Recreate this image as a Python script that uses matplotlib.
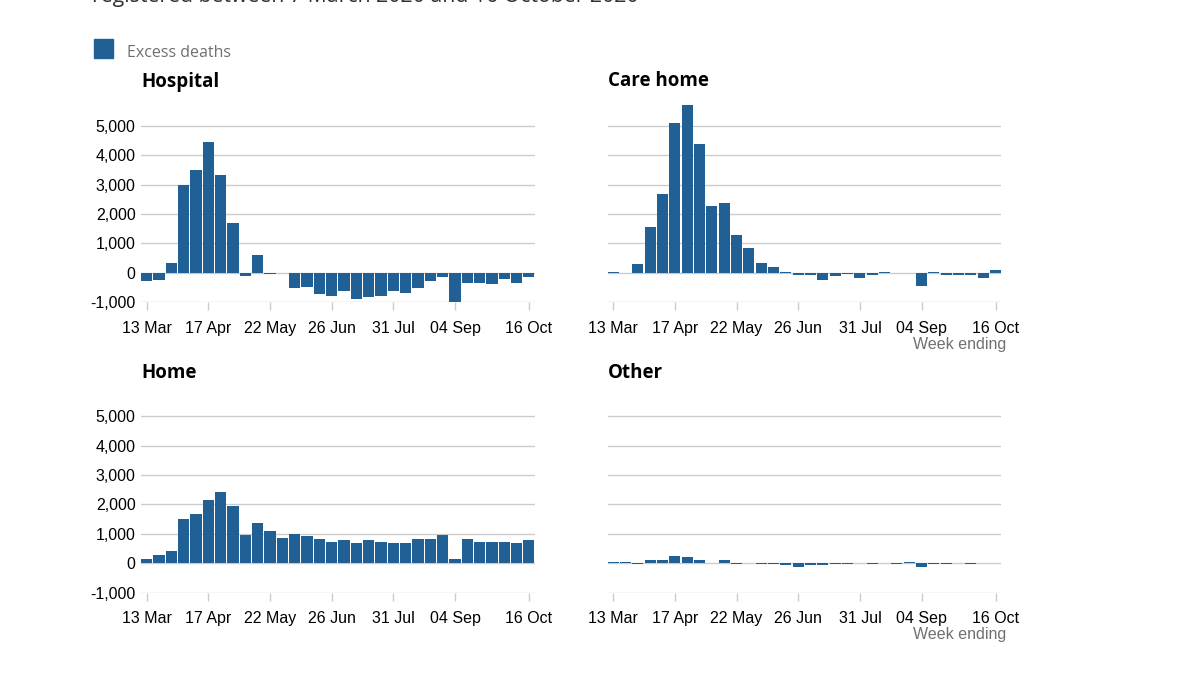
import matplotlib
matplotlib.use('Agg')
import matplotlib.pyplot as plt
import matplotlib.dates as mdates
from matplotlib.patches import Rectangle
import pandas as pd

# week ending dates, 13 March to 16 October 2020
weeks = pd.date_range('2020-03-13', '2020-10-16', freq='7D')

hospital = [-280, -240, 340, 2970, 3510, 4460, 3330, 1690, -100, 610, -25, -15,
            -510, -465, -735, -780, -600, -880, -830, -780, -600, -690, -510, -280,
            -150, -1000, -330, -330, -375, -200, -330, -150]
care_home = [20, 0, 285, 1560, 2690, 5100, 5690, 4375, 2285, 2365, 1285, 830,
             330, 195, 15, -70, -70, -250, -115, -25, -160, -70, 45, 0,
             0, -430, 45, -70, -70, -70, -160, 100]
home = [145, 285, 420, 1505, 1685, 2140, 2410, 1955, 975, 1370, 1095, 870,
        1005, 915, 825, 735, 780, 690, 780, 735, 690, 690, 825, 825,
        960, 145, 825, 735, 735, 735, 690, 780]
other = [55, 55, -20, 100, 100, 250, 205, 115, 0, 115, -20, 0,
         -20, -20, -70, -115, -70, -70, -25, -25, 0, -25, 0, -25,
         55, -115, -25, -25, 0, -25, 0, 0]

panels = ['Hospital', 'Care home', 'Home', 'Other']
series = [hospital, care_home, home, other]

tick_dates = pd.to_datetime(['2020-03-13', '2020-04-17', '2020-05-22', '2020-06-26',
                             '2020-07-31', '2020-09-04', '2020-10-16'])
tick_labels = ['13 Mar', '17 Apr', '22 May', '26 Jun', '31 Jul', '04 Sep', '16 Oct']
y_ticks = [-1000, 0, 1000, 2000, 3000, 4000, 5000]
y_labels = ['-1,000', '0', '1,000', '2,000', '3,000', '4,000', '5,000']

blue = '#206095'
grid_grey = '#cccccc'
text_grey = '#707070'

W, H = 1200, 675
fig = plt.figure(figsize=(12, 6.75), dpi=100)

# subtitle (cut off at top in the reference)
fig.text(92 / W, 1 - 2 / H, 'registered between 7 March 2020 and 16 October 2020',
         family='Open Sans', fontsize=15.3, color='#323132', va='baseline', ha='left')

# legend
fig.patches.append(Rectangle((94 / W, 1 - 58 / H), 19 / W, 19 / H,
                             transform=fig.transFigure, color=blue))
fig.text(127 / W, 1 - 53 / H, 'Excess deaths', family='Open Sans', fontsize=11.5,
         color=text_grey, va='center', ha='left')

lefts = [141.1, 607.7]
bottoms = [302.3, 592.7]
aw, ah = 393.4, 198.7
pad = pd.Timedelta(days=3.15)

for i, (name, vals) in enumerate(zip(panels, series)):
    col, row = i % 2, i // 2
    ax = fig.add_axes([lefts[col] / W, 1 - bottoms[row] / H, aw / W, ah / H])
    ax.bar(weeks, vals, width=6.3, color=blue, zorder=3)
    ax.set_xlim(weeks[0] - pad, weeks[-1] + pad)
    ax.set_ylim(-1000, 5750)
    ax.set_yticks(y_ticks)
    ax.set_xticks(tick_dates)
    ax.set_xticklabels(tick_labels, family='Liberation Sans', fontsize=11.5)
    if col == 0:
        ax.set_yticklabels(y_labels, family='Liberation Sans', fontsize=11.5)
    else:
        ax.set_yticklabels([])
    ax.tick_params(axis='y', length=0, pad=4)
    ax.tick_params(axis='x', length=6, width=1, color=grid_grey, pad=7.5)
    ax.grid(axis='y', color=grid_grey, linewidth=1, zorder=0)
    for s in ax.spines.values():
        s.set_visible(False)

    fig.text((lefts[col] + 0.6) / W, 1 - (81.5 + row * 291) / H, name,
             family='Open Sans', fontweight='bold', fontsize=13.5,
             va='center', ha='left')
    if col == 1:
        fig.text(1006 / W, 1 - (344 + row * 291) / H, 'Week ending',
                 family='Liberation Sans', fontsize=11.5, color=text_grey,
                 va='center', ha='right')

fig.savefig('out.png', dpi=100, facecolor='white')
